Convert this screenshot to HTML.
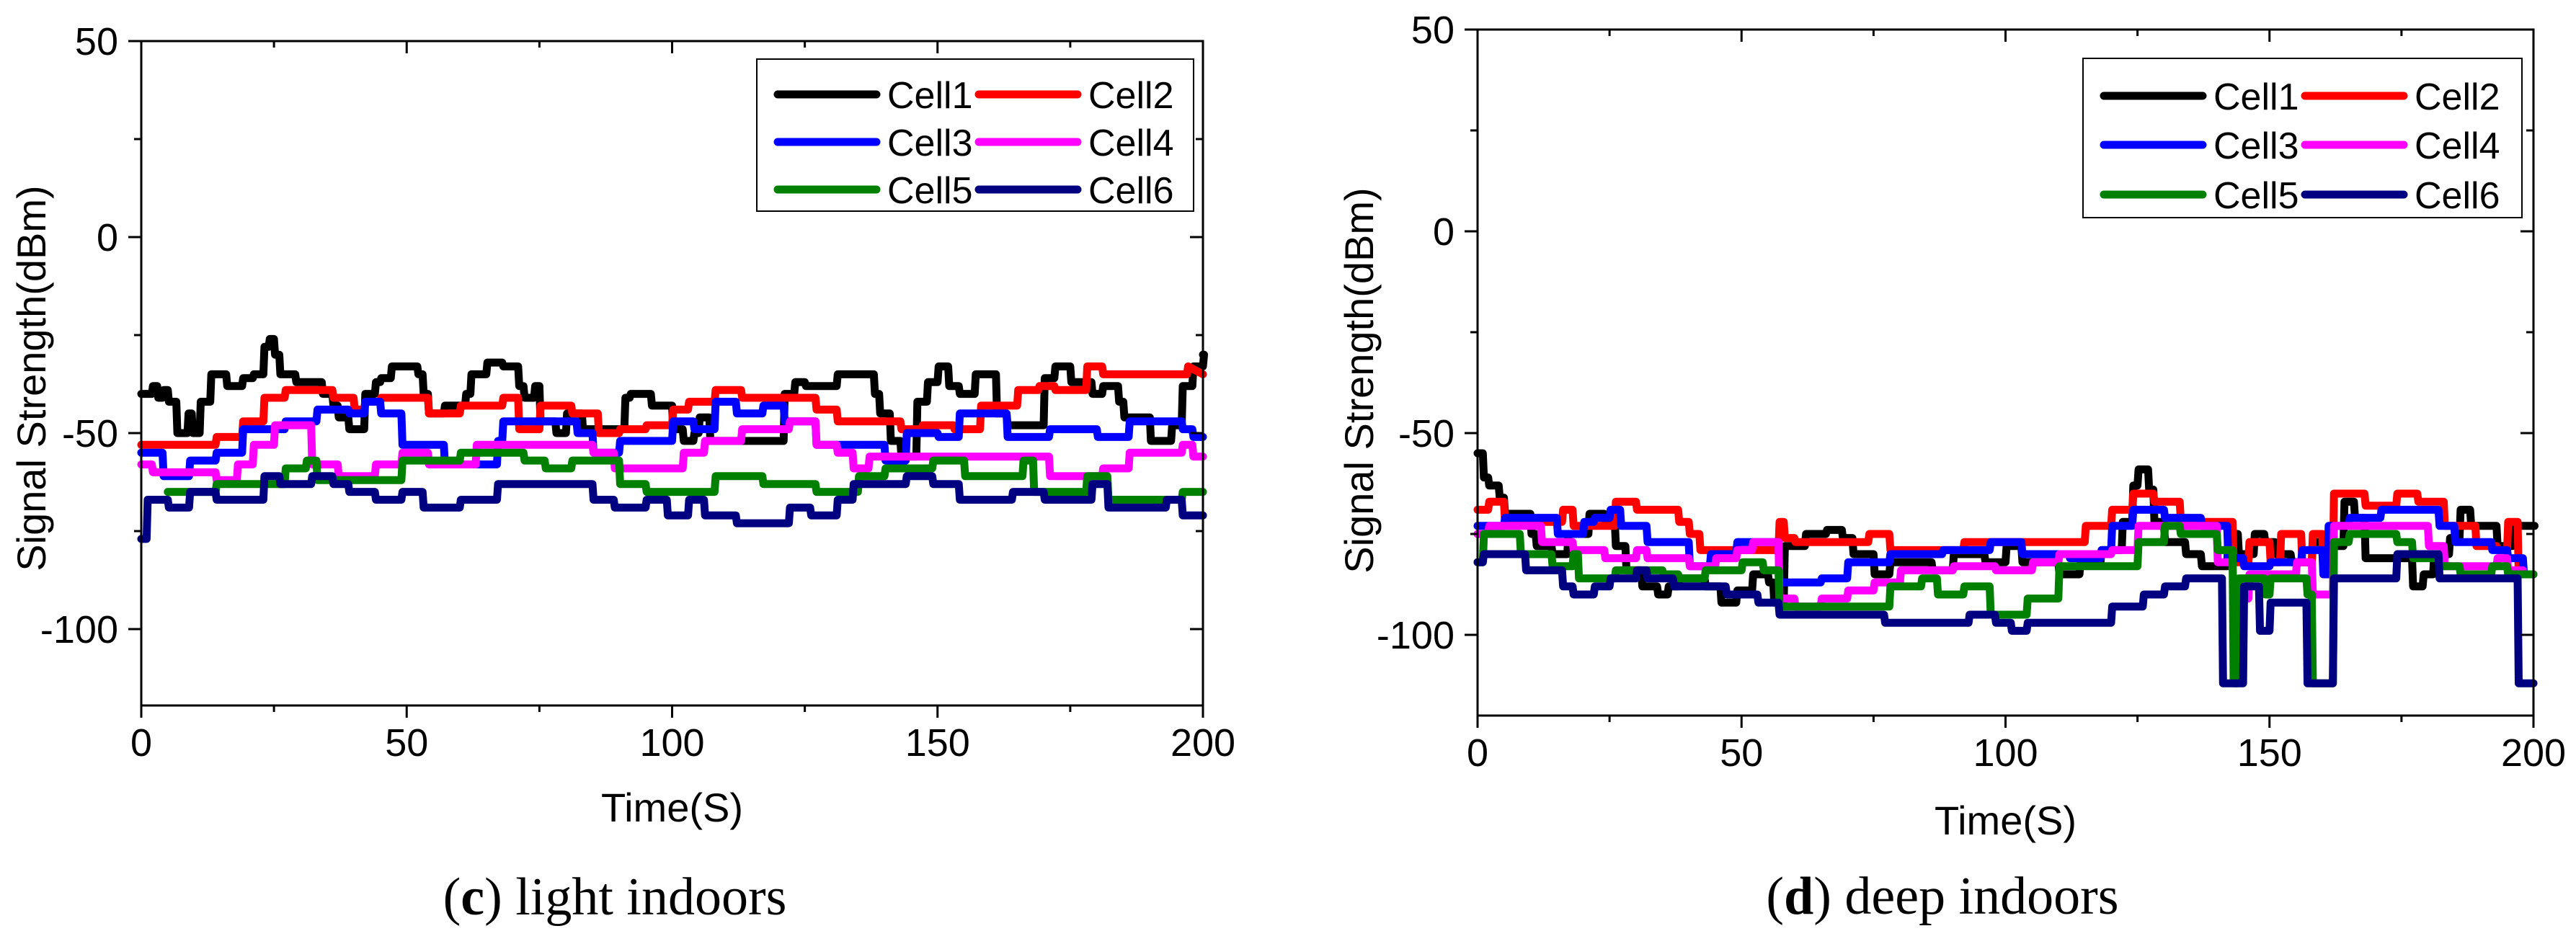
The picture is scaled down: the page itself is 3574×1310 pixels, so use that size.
<!DOCTYPE html>
<html><head><meta charset="utf-8">
<style>
html,body{margin:0;padding:0;background:#fff;}
svg{display:block;font-family:"Liberation Sans",Arial,sans-serif;}
</style></head>
<body>
<svg id="fig" width="3574" height="1310" viewBox="0 0 3574 1310" xmlns="http://www.w3.org/2000/svg"></svg>
<script>
// ---------- (c) light indoors ----------
const lightC1T=[0,2,3,4,5,6.6,8.7,9.5,11,13,16,19,21,23,24,25,26,29,34,36,37,39,42,44,45,47,52,53,54,57,61,62,65,68,71,72,74,75,78,80,83,91,92,96,100,102,104,105,107,115,121,123,125,131,138,139,141,143,146,148,150,152,154,157,161,163,170,172,175,179,181,184,185,190,194,196,198,200];
const lightC1V=[-40,-38,-41,-39,-42,-50,-45,-50,-42,-35,-38,-36,-35,-28,-26,-30,-35,-37,-40,-43,-46,-49,-40,-37,-36,-33,-35,-40,-45,-43,-40,-35,-32,-33,-38,-41,-38,-47,-50,-45,-49,-41,-40,-43,-49,-52,-50,-46,-52,-52,-40,-37,-38,-35,-40,-45,-52,-56,-42,-37,-33,-38,-40,-35,-45,-48,-36,-33,-37,-40,-38,-42,-46,-52,-48,-38,-33,-30];
const lightC2T=[0,14,19,23,27,36,40,42,45,49,54,60,68,71,75,81,86,90,95,100,103,108,113,122,127,131,143,147,153,158,165,169,172,178,181,197];
const lightC2V=[-53,-51,-47,-41,-39,-41,-44,-42,-41,-41,-45,-43,-41,-49,-43,-45,-50,-49,-48,-44,-42,-39,-41,-41,-44,-47,-49,-48,-49,-43,-39,-38,-39,-33,-35,-33,-35];
const lightC3T=[0,4,9,14,19,27,33,39,42,45,49,57,67,68,82,85,90,100,104,108,112,117,121,127,140,144,150,154,163,171,180,186,196,198];
const lightC3V=[-55,-61,-57,-55,-49,-47,-44,-45,-42,-45,-53,-58,-52,-47,-50,-55,-52,-47,-49,-42,-45,-43,-47,-53,-57,-50,-51,-45,-51,-49,-51,-47,-49,-51];
const lightC4T=[0,2,14,18,21,25,32,37,44,49,54,63,85,89,102,106,113,122,127,131,134,137,160,171,181,186,196,198];
const lightC4V=[-58,-60,-62,-58,-53,-48,-58,-61,-58,-55,-58,-53,-55,-59,-55,-52,-49,-47,-53,-55,-59,-56,-56,-61,-59,-55,-53,-56];
const lightC5T=[5,14,27,31,33,49,60,72,76,81,90,95,108,117,127,135,140,149,155,166,168,178,182,196];
const lightC5V=[-65,-63,-59,-57,-62,-57,-55,-57,-59,-57,-63,-65,-61,-63,-65,-61,-59,-57,-61,-57,-65,-61,-67,-65];
const lightC6T=[0,1,5,9,14,23,26,32,36,39,44,49,53,60,67,85,89,95,99,103,106,112,122,126,131,134,144,149,154,164,170,179,182,193,196];
const lightC6V=[-77,-67,-69,-65,-67,-61,-63,-61,-63,-65,-67,-65,-69,-67,-63,-67,-69,-67,-71,-67,-71,-73,-69,-71,-67,-63,-61,-63,-67,-65,-67,-63,-69,-67,-71];

// ---------- (d) deep indoors ----------
const deepC1T=[0,1,2,4,5,10,11,14,17,21,24,26,28,31,34,36,38,43,46,49,52,55,56,58,62,66,69,71,75,78,86,90,96,100,103,110,114,118,122,124,125,127,128,130,134,137,142,144,147,149,151,154,158,160,164,166,168,177,179,181,184,186,188,193,196,200];
const deepC1V=[-55,-61,-63,-66,-70,-75,-78,-80,-75,-70,-72,-78,-84,-88,-90,-88,-86,-88,-92,-89,-85,-87,-92,-78,-75,-74,-76,-80,-85,-82,-84,-80,-82,-78,-82,-85,-82,-79,-72,-63,-59,-64,-72,-77,-80,-83,-75,-80,-75,-77,-80,-82,-77,-78,-67,-71,-81,-88,-85,-80,-76,-69,-73,-78,-73,-73];
const deepC2T=[0,2,5,16,18,26,30,38,40,42,57,58,60,74,78,92,115,120,124,128,133,143,146,150,152,156,158,160,162,168,174,178,183,189,193,195,197];
const deepC2V=[-69,-67,-72,-69,-73,-67,-69,-72,-75,-79,-72,-76,-77,-75,-79,-77,-73,-69,-65,-67,-72,-82,-77,-82,-75,-82,-75,-85,-65,-68,-65,-67,-73,-78,-79,-72,-85];
const deepC3T=[0,5,15,20,22,25,27,32,40,44,49,57,65,70,78,88,97,103,112,118,120,124,130,137,142,145,150,156,160,161,165,171,182,185,192,195,198];
const deepC3V=[-73,-71,-75,-72,-71,-69,-73,-77,-83,-80,-77,-87,-86,-82,-80,-79,-77,-80,-81,-79,-73,-69,-71,-73,-81,-83,-82,-79,-85,-73,-71,-69,-73,-77,-79,-81,-85];
const deepC4T=[0,2,12,18,24,30,32,40,45,49,52,57,60,65,70,75,80,90,98,105,110,120,125,140,143,146,155,158,162,170,180,183,193,195,198];
const deepC4V=[-75,-73,-77,-79,-81,-79,-81,-83,-81,-79,-77,-91,-93,-91,-89,-87,-84,-83,-84,-82,-80,-79,-73,-82,-91,-85,-82,-90,-73,-73,-78,-83,-81,-84,-85];
const deepC5T=[0,1,8,14,18,19,26,35,38,43,50,54,57,78,84,87,92,97,104,110,125,130,133,140,143,144,149,150,157,158,162,165,174,177,182,186,192,195];
const deepC5V=[-82,-75,-80,-83,-80,-86,-84,-85,-86,-84,-82,-84,-93,-88,-86,-90,-88,-95,-91,-83,-77,-73,-75,-79,-112,-86,-90,-86,-90,-112,-77,-75,-77,-81,-83,-85,-83,-85];
const deepC6T=[0,1,9,16,18,22,25,30,32,37,47,53,57,77,93,98,101,104,120,126,130,134,141,145,148,150,157,162,174,182,197];
const deepC6V=[-82,-80,-84,-88,-90,-88,-86,-84,-86,-88,-90,-92,-95,-97,-95,-97,-99,-97,-93,-90,-88,-86,-112,-88,-99,-92,-112,-86,-80,-86,-112];

const cellNames=['Cell1','Cell2','Cell3','Cell4','Cell5','Cell6'];
const cellColors=['#000000','#ff0000','#0000ff','#ff00ff','#008000','#000080'];
const xTicks=[0,50,100,150,200];
const yTicks=[50,0,-50,-100];

const NS='http://www.w3.org/2000/svg';
const svg=document.getElementById('fig');
function mk(tag,attrs,parent){const e=document.createElementNS(NS,tag);for(const k in attrs)e.setAttribute(k,attrs[k]);(parent||svg).appendChild(e);return e;}

function drawPanel(p){
  const g=mk('g',{});
  
  
  const xs=t=>p.x0+(t/200)*(p.x1-p.x0);
  const ys=v=>p.y50+(50-v)/50*p.per50;
  // series
  const sg=mk('g',{},g);
  p.series.forEach((s,i)=>{
    const T=s[0],V=s[1];
    let d='M'+xs(T[0]).toFixed(1)+' '+ys(V[0]).toFixed(1);
    for(let k=1;k<T.length;k++){
      d+=' L'+xs(T[k]).toFixed(1)+' '+ys(V[k-1]).toFixed(1);
      d+=' L'+(xs(T[k])+1.5).toFixed(1)+' '+ys(V[k]).toFixed(1);
    }
    d+=' L'+xs(200).toFixed(1)+' '+ys(V[V.length-1]).toFixed(1);
    const path=mk('path',{d:d,fill:'none',stroke:cellColors[i],'stroke-width':11,'stroke-linejoin':'round','stroke-linecap':'round'},sg);
    
    
  });
  // frame
  const fr=mk('rect',{x:p.x0,y:p.y50,width:p.x1-p.x0,height:p.yb-p.y50,fill:'none',stroke:'#000','stroke-width':3},g);
  
  
  // x ticks
  for(let t=0;t<=200;t+=25){
    const major=t%50===0;
    mk('line',{x1:xs(t),x2:xs(t),y1:p.yb,y2:p.yb+(major?17:9),stroke:'#000','stroke-width':3},g);
    if(t>0&&t<200) mk('line',{x1:xs(t),x2:xs(t),y1:p.y50,y2:p.y50+(major?17:9),stroke:'#000','stroke-width':3},g);
  }
  xTicks.forEach(t=>{
    const tx=mk('text',{x:xs(t),y:p.yb+70,'font-size':54,'text-anchor':'middle'},g);
    tx.textContent=t;
    
    
  });
  // y ticks
  for(let v=50;v>=-120;v-=25){
    const major=v%50===0;
    const y=ys(v);
    mk('line',{x1:p.x0,x2:p.x0-(major?18:10),y1:y,y2:y,stroke:'#000','stroke-width':3},g);
    if(v<50) mk('line',{x1:p.x1,x2:p.x1-(major?18:10),y1:y,y2:y,stroke:'#000','stroke-width':3},g);
  }
  yTicks.forEach(v=>{
    const tx=mk('text',{x:p.x0-32,y:ys(v)+19,'font-size':54,'text-anchor':'end'},g);
    tx.textContent=v;
    
    
  });
  // axis titles
  const xt=mk('text',{x:(p.x0+p.x1)/2,y:p.xTitleY,'font-size':56,'text-anchor':'middle'},g);
  xt.textContent='Time(S)';
  
  
  const yt=mk('text',{x:0,y:0,'font-size':56,'text-anchor':'middle',transform:'translate('+p.yTitleX+','+p.yTitleC+') rotate(-90)'},g);
  yt.textContent='Signal Strength(dBm)';
  
  
  // legend
  const lg=mk('g',{},g);
  
  
  mk('rect',{x:p.lx,y:p.ly,width:p.lw,height:p.lh,fill:'#fff',stroke:'#000','stroke-width':2},lg);
  cellNames.forEach((n,i)=>{
    const col=i%2,row=Math.floor(i/2);
    const y=p.rows[row];
    const ox=p.lx+(col?308:29);
    const eg=mk('g',{},lg);
    
    
    mk('line',{x1:ox,x2:ox+137,y1:y,y2:y,stroke:cellColors[i],'stroke-width':11,'stroke-linecap':'round'},eg);
    const tx=mk('text',{x:ox+152,y:y+19,'font-size':52},eg);
    tx.textContent=n;
  });
  // caption
  const cap=mk('text',{x:p.capX,y:p.capY,'font-size':74,'text-anchor':'middle','font-family':'"Liberation Serif",serif'},svg);
  
  
  const b=mk('tspan',{},cap);b.textContent='(';
  const bb=mk('tspan',{'font-weight':'bold'},cap);bb.textContent=p.letter;
  const rest=mk('tspan',{},cap);rest.textContent=') '+p.capText;
}

drawPanel({id:'light-indoors',x0:196,x1:1669,y50:57,per50:272,yb:979,xTitleY:1140,yTitleX:63,yTitleC:525,
  lx:1050,ly:82,lw:606,lh:211,rows:[131,197,263],capX:853,capY:1269,letter:'c',capText:'light indoors',
  series:[[lightC1T,lightC1V],[lightC2T,lightC2V],[lightC3T,lightC3V],[lightC4T,lightC4V],[lightC5T,lightC5V],[lightC6T,lightC6V]]});
drawPanel({id:'deep-indoors',x0:2050,x1:3515,y50:41,per50:280,yb:993,xTitleY:1158,yTitleX:1905,yTitleC:528,
  lx:2890,ly:81,lw:609,lh:221,rows:[133,201,270],capX:2695,capY:1268,letter:'d',capText:'deep indoors',
  series:[[deepC1T,deepC1V],[deepC2T,deepC2V],[deepC3T,deepC3V],[deepC4T,deepC4V],[deepC5T,deepC5V],[deepC6T,deepC6V]]});
</script>
</body></html>
